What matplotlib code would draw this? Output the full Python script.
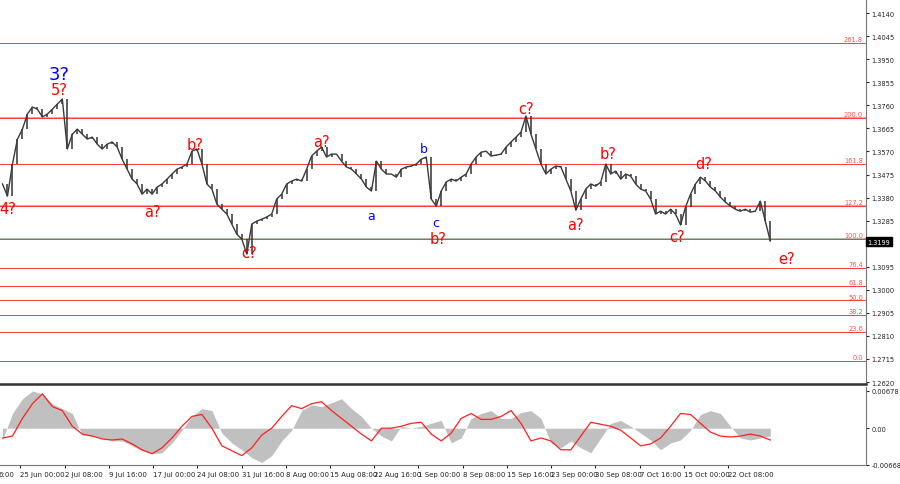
import numpy as np
import matplotlib
matplotlib.use("Agg")
import matplotlib.pyplot as plt

closes = [1.3436,1.3386,1.3518,1.3621,1.3662,1.3724,1.3753,1.3744,1.3712,1.3724,1.3744,1.3765,1.3786,1.3580,1.3641,1.3662,
          1.3641,1.3621,1.3629,1.3600,1.3580,1.3600,1.3609,1.3588,1.3538,1.3497,1.3456,1.3436,1.3394,1.3415,1.3394,1.3423,
          1.3436,1.3456,1.3477,1.3497,1.3506,1.3518,1.3571,1.3580,1.3518,1.3436,1.3415,1.3353,1.3332,1.3312,1.3271,1.3229,
          1.3209,1.3147,1.3271,1.3283,1.3291,1.3300,1.3312,1.3374,1.3394,1.3436,1.3448,1.3456,1.3448,1.3497,1.3551,1.3571,
          1.3588,1.3547,1.3559,1.3559,1.3530,1.3506,1.3497,1.3477,1.3456,1.3423,1.3407,1.3530,1.3497,1.3477,1.3477,1.3464,
          1.3497,1.3506,1.3510,1.3518,1.3538,1.3547,1.3374,1.3345,1.3407,1.3444,1.3456,1.3448,1.3464,1.3477,1.3518,1.3547,
          1.3567,1.3571,1.3551,1.3555,1.3559,1.3588,1.3609,1.3629,1.3650,1.3716,1.3641,1.3580,1.3518,1.3477,1.3497,1.3510,
          1.3506,1.3456,1.3407,1.3328,1.3374,1.3415,1.3436,1.3427,1.3444,1.3518,1.3477,1.3489,1.3456,1.3477,1.3468,1.3436,
          1.3415,1.3407,1.3374,1.3312,1.3324,1.3312,1.3332,1.3312,1.3267,1.3341,1.3394,1.3436,1.3464,1.3448,1.3423,1.3407,
          1.3382,1.3361,1.3345,1.3332,1.3324,1.3332,1.3320,1.3324,1.3365,1.3283,1.3201]

macd_hist = [-2.14,2.67,5.34,6.76,6.23,4.45,3.56,2.67,-1.25,-1.42,-1.78,-2.31,-2.31,-3.20,-4.09,-4.63,-4.45,-2.67,-0.36,2.14,
             3.56,3.20,-0.89,-2.67,-3.92,-5.34,-6.23,-4.98,-2.31,-0.36,3.20,4.27,3.92,4.63,5.34,3.56,2.14,0.0,-1.42,-2.31,
             0.36,0.0,0.36,0.89,1.42,-2.67,-1.78,1.78,2.67,3.20,1.78,1.78,2.85,3.20,1.78,-2.67,-3.56,-2.31,-3.56,-4.45,
             -1.78,0.89,1.42,0.36,-0.89,-2.14,-3.92,-2.67,-2.14,-0.36,2.49,3.20,2.67,0.36,-1.78,-2.14,-1.78,-1.42,-0.89,-3.20]
macd_signal = [-1.78,-1.42,1.78,4.45,6.23,3.92,3.20,0.36,-1.07,-1.42,-1.96,-2.14,-1.96,-2.85,-3.92,-4.63,-3.56,-1.78,0.36,2.14,
               2.49,0.0,-3.20,-4.09,-4.98,-3.56,-1.25,0.0,2.14,4.09,3.56,4.45,4.81,3.20,1.78,0.36,-1.07,-2.31,0.0,0.0,
               0.36,0.89,1.07,-1.07,-2.31,-0.89,1.78,2.67,1.60,1.60,2.14,3.20,0.89,-2.31,-1.78,-2.31,-3.92,-3.92,-1.42,1.07,
               0.71,0.36,-0.36,-1.78,-3.20,-2.85,-1.78,0.36,2.67,2.49,0.89,-0.71,-1.42,-1.60,-1.42,-1.07,-1.42,-2.14]

fib_levels = ["261.8","200.0","161.8","127.2","100.0","76.4","61.8","50.0","38.2","23.6","0.0"]
fib_prices = [1.4016,1.3707,1.3518,1.3345,1.3209,1.3089,1.3015,1.2957,1.2896,1.2826,1.2706]
price_ticks = [1.4140,1.4045,1.3950,1.3855,1.3760,1.3665,1.3570,1.3475,1.3380,1.3285,1.3095,1.3000,1.2905,1.2810,1.2715,1.2620]
current_price = 1.3199
date_labels = ["25 Jun 00:00","2 Jul 08:00","9 Jul 16:00","17 Jul 00:00","24 Jul 08:00","31 Jul 16:00","8 Aug 00:00",
               "15 Aug 08:00","22 Aug 16:00","1 Sep 00:00","8 Sep 08:00","15 Sep 16:00","23 Sep 00:00","30 Sep 08:00",
               "7 Oct 16:00","15 Oct 00:00","22 Oct 08:00"]
wave_text = ["4?","3?","5?","a?","b?","c?","a?","a","b","c","b?","c?","a?","b?","c?","d?","e?"]
wave_x = [1,11.4,11.4,30,38.6,49.4,64,74,84.6,87,87.4,105,115,121.4,135.4,140.6,157.2]
wave_y = [1.3334,1.3887,1.3826,1.3322,1.3600,1.3155,1.3613,1.3305,1.3581,1.3277,1.3211,1.3748,1.3271,1.3560,1.3221,1.3519,1.3130]
wave_col = ["red","blue","red","red","red","red","red","blue","blue","blue","red","red","red","red","red","red","red"]

W = 866
fig = plt.figure(figsize=(9, 4.85), dpi=100)
ax = fig.add_axes([0.0, 1-385/485, W/900, 385/485])
axm = fig.add_axes([0.0, 1-466/485, W/900, 78/485])
xmax = W/5

x = np.arange(len(closes))
for i, fp in enumerate(fib_prices):
    ax.axhline(fp, color="#ff3838", lw=0.7, zorder=1)
    ax.text(xmax-0.6, fp+0.0003, fib_levels[i], color="#ff5050", fontsize=4.8, ha="right", va="bottom")
for fp in [1.3707, 1.3345, 1.3209]:
    ax.axhline(fp+0.0003, color="#999999", lw=0.5, zorder=0.5)
opens = [closes[0]] + closes[:-1]
ax.vlines(x, np.minimum(opens, closes), np.maximum(opens, closes), color="#333333", lw=1.1, zorder=3)
ax.plot(x, closes, color="#3a3a3a", lw=1.0, zorder=3)
for t, xx, yy, c in zip(wave_text, wave_x, wave_y, wave_col):
    fs = 13 if t == "3?" else (9 if len(t) == 1 else 10.5)
    ax.text(xx, yy, t, color=c, fontsize=fs, ha="center", va="center", zorder=4)

ax.set_xlim(-0.5, xmax)
ax.set_ylim(1.2612, 1.4198)
ax.yaxis.tick_right()
ax.set_yticks(price_ticks)
ax.set_yticklabels(["%.4f" % p for p in price_ticks], fontsize=4.8)
ax.tick_params(axis="y", length=2, pad=2, colors="#222222")
ax.set_xticks([])
ax.text(1.002, current_price, "%.4f" % current_price, transform=ax.get_yaxis_transform(), fontsize=4.8, color="white",
        va="center", ha="left", bbox=dict(boxstyle="square,pad=0.2", fc="black", ec="black"), zorder=5)
for s in ["top", "left"]:
    ax.spines[s].set_visible(False)
ax.spines["bottom"].set_color("#333333")
ax.spines["bottom"].set_linewidth(1.8)
ax.spines["right"].set_color("#777777")

n = min(len(macd_hist), len(macd_signal))
mx = np.arange(n) * 2
axm.fill_between(mx, 0, np.array(macd_hist[:n]) / 1000, color="#c0c0c0", lw=0, zorder=1)
axm.plot(mx, np.array(macd_signal[:n]) / 1000, color="#ff2020", lw=0.9, zorder=2)
axm.set_xlim(-0.5, xmax)
axm.set_ylim(-0.0064, 0.00748)
axm.yaxis.tick_right()
axm.set_yticks([0.00678, 0.0, -0.00668])
axm.set_yticklabels(["0.00678", "0.00", "-0.00668"], fontsize=4.8)
axm.tick_params(axis="y", length=2, pad=2, colors="#222222")
tick_px = [18 + 44.35*k for k in range(len(date_labels))]
axm.set_xticks([p/5 for p in tick_px])
axm.set_xticklabels(date_labels, fontsize=5, ha="left")
axm.tick_params(axis="x", length=2, pad=2, colors="#222222")
axm.text(0.8, -0.0077, "6:00", fontsize=5, ha="center", va="top", color="#222222", clip_on=False)
axm.spines["top"].set_visible(False)
axm.spines["left"].set_visible(False)
for s in ["right", "bottom"]:
    axm.spines[s].set_color("#777777")

fig.savefig("out.png", dpi=100)
